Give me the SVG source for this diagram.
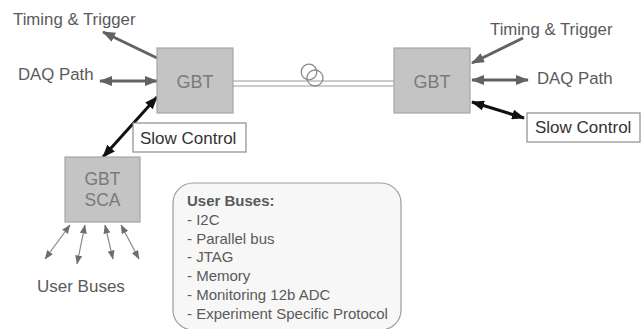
<svg xmlns="http://www.w3.org/2000/svg" width="641" height="329" viewBox="0 0 641 329">
  <style>
    text { font-family: "Liberation Sans", Arial, sans-serif; }
    .lbl { font-size: 16.8px; fill: #5a5a5a; }
    .chip { fill: #c4c4c4; stroke: #a6a6a6; stroke-width: 1.2; }
    .chipTxt { font-size: 18px; fill: #7a7a7a; text-anchor: middle; }
    .tag { fill: #ffffff; stroke: #8c8c8c; stroke-width: 1.2; }
    .tagTxt { font-size: 17px; fill: #333333; }
    .gray { stroke: #626262; stroke-width: 3; fill: none; }
    .dark { stroke: #111111; stroke-width: 3; fill: none; }
    .thin { stroke: #8a8a8a; stroke-width: 1.2; fill: none; }
    .fiber { stroke: #9a9a9a; stroke-width: 1.2; fill: none; }
    .buses { fill: #f7f7f7; stroke: #9c9c9c; stroke-width: 1.2; }
    .busTxt { font-size: 15px; fill: #5a5a5a; }
  </style>
  <defs>
    <marker id="headGray" viewBox="0 0 13 10" refX="12" refY="5" markerWidth="13" markerHeight="10" markerUnits="userSpaceOnUse" orient="auto-start-reverse">
      <path d="M0,0 L13,5 L0,10 z" fill="#626262"/>
    </marker>
    <marker id="headDark" viewBox="0 0 13 10" refX="12" refY="5" markerWidth="13" markerHeight="10" markerUnits="userSpaceOnUse" orient="auto-start-reverse">
      <path d="M0,0 L13,5 L0,10 z" fill="#111111"/>
    </marker>
    <marker id="headThin" viewBox="0 0 9 7" refX="8.5" refY="3.5" markerWidth="9" markerHeight="7" markerUnits="userSpaceOnUse" orient="auto-start-reverse">
      <path d="M0,0 L9,3.5 L0,7 z" fill="#6e6e6e"/>
    </marker>
  </defs>

  <!-- connectors -->
  <g id="connectors">
    <!-- optical link between the two GBT chips -->
    <line class="fiber" x1="233" y1="81" x2="394" y2="81"/>
    <line class="fiber" x1="233" y1="86" x2="394" y2="86"/>
    <circle cx="309" cy="72" r="7.8" fill="none" stroke="#8a8a8a" stroke-width="1.3"/>
    <circle cx="315" cy="78" r="8" fill="none" stroke="#8a8a8a" stroke-width="1.3"/>

    <!-- left side -->
    <line class="gray" x1="157" y1="58" x2="103" y2="32" marker-end="url(#headGray)"/>
    <line class="gray" x1="100" y1="81" x2="157" y2="81" marker-start="url(#headGray)" marker-end="url(#headGray)"/>
    <line class="dark" x1="157" y1="97" x2="103" y2="157" marker-start="url(#headDark)" marker-end="url(#headDark)"/>

    <!-- right side -->
    <line class="gray" x1="523" y1="38" x2="472" y2="63" marker-end="url(#headGray)"/>
    <line class="gray" x1="472" y1="80" x2="528" y2="80" marker-start="url(#headGray)" marker-end="url(#headGray)"/>
    <line class="dark" x1="472" y1="102" x2="524" y2="118" marker-start="url(#headDark)" marker-end="url(#headDark)"/>

    <!-- user buses fan-out -->
    <line class="thin" x1="70" y1="225" x2="45" y2="259" marker-start="url(#headThin)" marker-end="url(#headThin)"/>
    <line class="thin" x1="85" y1="225" x2="77" y2="264" marker-start="url(#headThin)" marker-end="url(#headThin)"/>
    <line class="thin" x1="105" y1="225" x2="113" y2="259" marker-start="url(#headThin)" marker-end="url(#headThin)"/>
    <line class="thin" x1="121" y1="225" x2="139" y2="259" marker-start="url(#headThin)" marker-end="url(#headThin)"/>
  </g>

  <!-- front-end GBT -->
  <g id="gbt-left">
    <rect class="chip" x="157" y="48" width="76" height="65"/>
    <text class="chipTxt" x="195" y="88">GBT</text>
  </g>

  <!-- counting-room GBT -->
  <g id="gbt-right">
    <rect class="chip" x="394" y="48" width="76" height="65"/>
    <text class="chipTxt" x="432" y="88">GBT</text>
  </g>

  <!-- slow control adapter -->
  <g id="gbt-sca">
    <rect class="chip" x="65" y="157" width="75" height="65"/>
    <text class="chipTxt" x="102.5" y="185" style="font-size:17.5px">GBT</text>
    <text class="chipTxt" x="102.5" y="205.5" style="font-size:17.5px">SCA</text>
  </g>

  <!-- free labels -->
  <g id="label-timing-left">
    <text class="lbl" x="13" y="25">Timing &amp; Trigger</text>
  </g>
  <g id="label-daq-left">
    <text class="lbl" x="18" y="80">DAQ Path</text>
  </g>
  <g id="label-timing-right">
    <text class="lbl" x="490" y="35">Timing &amp; Trigger</text>
  </g>
  <g id="label-daq-right">
    <text class="lbl" x="537" y="84">DAQ Path</text>
  </g>
  <g id="label-user-buses">
    <text class="lbl" x="37" y="292" style="font-size:17px">User Buses</text>
  </g>

  <!-- slow control tags -->
  <g id="slow-control-left">
    <rect class="tag" x="133" y="123" width="113" height="29"/>
    <text class="tagTxt" x="140" y="144">Slow Control</text>
  </g>
  <g id="slow-control-right">
    <rect class="tag" x="527" y="113" width="113" height="29"/>
    <text class="tagTxt" x="535" y="133">Slow Control</text>
  </g>

  <!-- list of supported buses -->
  <g id="user-buses-list">
    <rect class="buses" x="173" y="183" width="228" height="147" rx="20" ry="20"/>
    <text class="busTxt" x="187" y="206" font-weight="bold">User Buses:</text>
    <text class="busTxt" x="187" y="224.8">- I2C</text>
    <text class="busTxt" x="187" y="243.6">- Parallel bus</text>
    <text class="busTxt" x="187" y="262.4">- JTAG</text>
    <text class="busTxt" x="187" y="281.2">- Memory</text>
    <text class="busTxt" x="187" y="300">- Monitoring 12b ADC</text>
    <text class="busTxt" x="187" y="318.8">- Experiment Specific Protocol</text>
  </g>
</svg>
